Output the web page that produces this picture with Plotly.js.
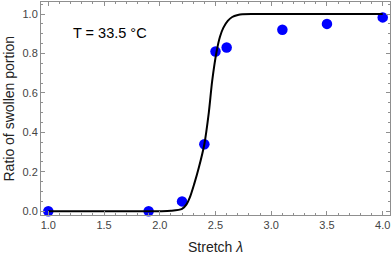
<!DOCTYPE html>
<html>
<head>
<meta charset="utf-8">
<script src="https://cdn.plot.ly/plotly-3.0.1.min.js"></script>
<style>html,body{margin:0;padding:0;background:#fff;}#chart{width:392px;height:256px;}</style>
</head>
<body>
<div id="chart"></div>
<script>
// Measured data points
var stretchValues = [1.0, 1.9, 2.2, 2.4, 2.5, 2.6, 3.1, 3.5, 4.0];
var swollenRatio  = [0.0, 0.0, 0.05, 0.34, 0.81, 0.83, 0.92, 0.95, 0.983];

// Fitted curve
var curveX = [1.0, 1.5, 2.0, 2.1, 2.2, 2.24, 2.27, 2.31, 2.35, 2.4, 2.44, 2.47, 2.51, 2.54, 2.57, 2.61, 2.65, 2.7, 2.74, 2.85, 3.0, 3.5, 4.0];
var curveY = [0.0, 0.0, 0.0, 0.002, 0.012, 0.035, 0.07, 0.14, 0.22, 0.34, 0.5, 0.66, 0.81, 0.885, 0.93, 0.965, 0.985, 0.995, 0.999, 1.0, 1.0, 1.0, 1.0];

var xTickVals = [1.0, 1.5, 2.0, 2.5, 3.0, 3.5, 4.0];
var xTickText = ['1.0', '1.5', '2.0', '2.5', '3.0', '3.5', '4.0'];
var yTickVals = [0.0, 0.2, 0.4, 0.6, 0.8, 1.0];
var yTickText = ['0.0', '0.2', '0.4', '0.6', '0.8', '1.0'];

var annotationText = 'T = 33.5 °C';
var xTitle = 'Stretch <i>λ</i>';
var yTitle = 'Ratio of swollen portion';

var font = 'Liberation Sans, Arial, sans-serif';
var axisColor = '#8f8f8f';
var titleFont = {family: font, size: 14, color: '#222'};

var traces = [
  {
    x: stretchValues, y: swollenRatio, type: 'scatter', mode: 'markers',
    marker: {color: '#0000ff', size: 10.5}, cliponaxis: false, hoverinfo: 'skip'
  },
  {
    x: curveX, y: curveY, type: 'scatter', mode: 'lines',
    line: {color: '#000000', width: 2, shape: 'spline', smoothing: 0.8},
    cliponaxis: false, hoverinfo: 'skip'
  }
];

var commonAxis = {
  showgrid: false, zeroline: false, showline: true, linecolor: axisColor, linewidth: 1,
  mirror: 'ticks', ticks: 'inside', ticklen: 4, tickcolor: axisColor, tickwidth: 1,
  tickfont: {family: font, size: 11, color: '#444'}, tickmode: 'array'
};

var layout = {
  width: 392, height: 256,
  margin: {l: 41, r: 2, t: 2, b: 41},
  paper_bgcolor: '#fff', plot_bgcolor: '#fff',
  showlegend: false,
  font: {family: font},
  xaxis: Object.assign({}, commonAxis, {
    range: [0.9345, 4.0655], tickvals: xTickVals, ticktext: xTickText,
    minor: {ticks: 'inside', ticklen: 2, tickcolor: axisColor, dtick: 0.1, tick0: 1, showgrid: false}
  }),
  yaxis: Object.assign({}, commonAxis, {
    range: [-0.019, 1.061], tickvals: yTickVals, ticktext: yTickText,
    minor: {ticks: 'inside', ticklen: 2, tickcolor: axisColor, dtick: 0.05, tick0: 0, showgrid: false}
  }),
  annotations: [
    {
      x: 1.553, y: 0.902, xref: 'x', yref: 'y', text: annotationText, showarrow: false,
      font: {family: font, size: 14.5, color: '#000'}, xanchor: 'center', yanchor: 'middle'
    },
    {
      x: 0.5, y: -0.150, xref: 'paper', yref: 'paper', text: xTitle, showarrow: false,
      font: titleFont, xanchor: 'center', yanchor: 'middle'
    },
    {
      x: -0.0917, y: 0.5, xref: 'paper', yref: 'paper', text: yTitle, showarrow: false,
      font: titleFont, xanchor: 'center', yanchor: 'middle', textangle: -90
    }
  ]
};

Plotly.newPlot('chart', traces, layout, {staticPlot: true, displayModeBar: false});
</script>
</body>
</html>
